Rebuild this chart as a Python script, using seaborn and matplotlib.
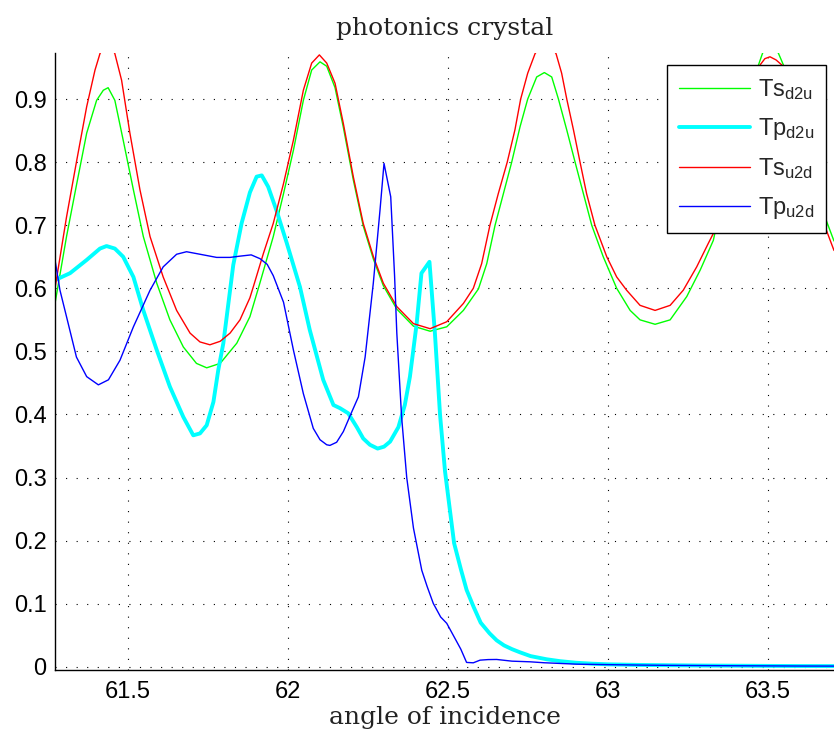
import numpy as np
import pandas as pd
import matplotlib
matplotlib.use("Agg")
import matplotlib.pyplot as plt
import seaborn as sns

# values
ts_d2u_x = [61.272, 61.308, 61.340, 61.371, 61.402, 61.423, 61.438, 61.459, 61.485, 61.517,
            61.548, 61.590, 61.631, 61.673, 61.714, 61.746, 61.788, 61.840, 61.881, 61.912,
            61.954, 61.986, 62.017, 62.048, 62.074, 62.100, 62.121, 62.147, 62.173, 62.204,
            62.235, 62.267, 62.298, 62.340, 62.392, 62.444, 62.496, 62.548, 62.595, 62.621,
            62.647, 62.673, 62.699, 62.725, 62.749, 62.777, 62.801, 62.824, 62.845, 62.871,
            62.897, 62.923, 62.949, 62.985, 63.027, 63.069, 63.100, 63.147, 63.194, 63.246,
            63.288, 63.329, 63.360, 63.390, 63.420, 63.450, 63.470, 63.483, 63.505, 63.532,
            63.548, 63.570, 63.600, 63.630, 63.660, 63.680, 63.706]
ts_d2u_y = [0.576, 0.682, 0.766, 0.846, 0.898, 0.914, 0.918, 0.898, 0.835, 0.756,
            0.682, 0.608, 0.550, 0.507, 0.481, 0.474, 0.481, 0.513, 0.555, 0.608,
            0.682, 0.750, 0.819, 0.898, 0.946, 0.959, 0.952, 0.918, 0.855, 0.772,
            0.699, 0.646, 0.604, 0.567, 0.540, 0.532, 0.539, 0.565, 0.599, 0.639,
            0.700, 0.750, 0.800, 0.856, 0.900, 0.935, 0.942, 0.935, 0.900, 0.851,
            0.800, 0.750, 0.700, 0.650, 0.600, 0.565, 0.550, 0.543, 0.550, 0.587,
            0.629, 0.676, 0.750, 0.820, 0.885, 0.935, 0.954, 0.973, 0.985, 0.973,
            0.954, 0.930, 0.880, 0.810, 0.745, 0.710, 0.675]

tp_d2u_x = [61.272, 61.319, 61.371, 61.4125, 61.433, 61.459, 61.485, 61.517, 61.548, 61.590,
            61.631, 61.673, 61.704, 61.725, 61.746, 61.767, 61.782, 61.798, 61.8085, 61.829,
            61.855, 61.881, 61.902, 61.918, 61.938, 61.965, 61.996, 62.0375, 62.068, 62.110,
            62.142, 62.1625, 62.188, 62.215, 62.235, 62.256, 62.280, 62.300, 62.319, 62.345,
            62.365, 62.381, 62.402, 62.417, 62.442, 62.459, 62.475, 62.4906, 62.506, 62.519,
            62.540, 62.558, 62.580, 62.602, 62.630, 62.652, 62.675, 62.700, 62.725, 62.758,
            62.808, 62.850, 62.900, 62.950, 63.000, 63.100, 63.200, 63.300, 63.400, 63.500,
            63.600, 63.706]
tp_d2u_y = [0.613, 0.624, 0.645, 0.663, 0.667, 0.663, 0.650, 0.618, 0.565, 0.502,
            0.444, 0.396, 0.367, 0.370, 0.383, 0.420, 0.470, 0.513, 0.555, 0.637,
            0.703, 0.752, 0.777, 0.779, 0.761, 0.722, 0.672, 0.602, 0.534, 0.455,
            0.415, 0.410, 0.402, 0.380, 0.362, 0.352, 0.346, 0.349, 0.357, 0.380,
            0.415, 0.460, 0.544, 0.624, 0.642, 0.529, 0.400, 0.310, 0.248, 0.196,
            0.155, 0.122, 0.095, 0.070, 0.053, 0.042, 0.034, 0.028, 0.023, 0.017,
            0.012, 0.009, 0.0065, 0.005, 0.004, 0.003, 0.0025, 0.002, 0.0018, 0.0015,
            0.0013, 0.0012]

ts_u2d_x = [61.272, 61.308, 61.340, 61.371, 61.397, 61.4125, 61.436, 61.459, 61.480, 61.506,
            61.5375, 61.569, 61.610, 61.652, 61.694, 61.725, 61.756, 61.788, 61.819, 61.850,
            61.881, 61.892, 61.923, 61.954, 61.986, 62.017, 62.048, 62.074, 62.098, 62.121,
            62.147, 62.173, 62.204, 62.235, 62.267, 62.298, 62.340, 62.392, 62.444, 62.496,
            62.548, 62.579, 62.605, 62.631, 62.657, 62.685, 62.709, 62.727, 62.749, 62.772,
            62.805, 62.8375, 62.855, 62.871, 62.892, 62.9125, 62.933, 62.959, 62.996, 63.027,
            63.058, 63.100, 63.147, 63.194, 63.235, 63.277, 63.313, 63.334, 63.360, 63.390,
            63.420, 63.450, 63.475, 63.490, 63.506, 63.525, 63.543, 63.570, 63.600, 63.630,
            63.660, 63.680, 63.706]
ts_u2d_y = [0.600, 0.713, 0.803, 0.888, 0.946, 0.972, 0.995, 0.972, 0.930, 0.846,
            0.756, 0.682, 0.618, 0.565, 0.529, 0.515, 0.5105, 0.516, 0.529, 0.550,
            0.585, 0.603, 0.655, 0.703, 0.766, 0.835, 0.914, 0.957, 0.970, 0.957,
            0.925, 0.861, 0.777, 0.703, 0.650, 0.608, 0.571, 0.544, 0.536, 0.547,
            0.576, 0.600, 0.639, 0.700, 0.750, 0.800, 0.851, 0.900, 0.941, 0.972,
            0.995, 0.972, 0.941, 0.900, 0.851, 0.800, 0.750, 0.700, 0.650, 0.618,
            0.597, 0.573, 0.565, 0.573, 0.597, 0.634, 0.671, 0.692, 0.745, 0.810,
            0.870, 0.925, 0.954, 0.964, 0.967, 0.962, 0.954, 0.925, 0.870, 0.800,
            0.735, 0.695, 0.660]

tp_u2d_x = [61.272, 61.2875, 61.308, 61.339, 61.371, 61.4075, 61.439, 61.475, 61.517, 61.569,
            61.610, 61.652, 61.683, 61.725, 61.777, 61.819, 61.850, 61.885, 61.9125, 61.935,
            61.954, 61.986, 62.017, 62.048, 62.079, 62.100, 62.121, 62.131, 62.152, 62.173,
            62.200, 62.220, 62.241, 62.2665, 62.2875, 62.300, 62.321, 62.333, 62.340, 62.355,
            62.371, 62.392, 62.418, 62.435, 62.454, 62.477, 62.496, 62.519, 62.540, 62.558,
            62.579, 62.600, 62.625, 62.652, 62.700, 62.756, 62.800, 62.900, 63.000, 63.100,
            63.200, 63.300, 63.400, 63.500, 63.600, 63.706]
tp_u2d_y = [0.645, 0.597, 0.555, 0.491, 0.460, 0.447, 0.455, 0.486, 0.539, 0.597,
            0.634, 0.654, 0.658, 0.654, 0.649, 0.649, 0.651, 0.653, 0.647, 0.638,
            0.620, 0.578, 0.502, 0.433, 0.378, 0.360, 0.352, 0.351, 0.356, 0.373,
            0.405, 0.428, 0.491, 0.608, 0.724, 0.798, 0.745, 0.620, 0.529, 0.396,
            0.300, 0.220, 0.153, 0.127, 0.1005, 0.079, 0.069, 0.0476, 0.028, 0.007,
            0.0064, 0.0106, 0.0115, 0.0117, 0.009, 0.008, 0.0065, 0.0043, 0.0035, 0.0028,
            0.0023, 0.002, 0.0017, 0.0015, 0.0013, 0.0012]

x_ticks = [61.5, 62, 62.5, 63, 63.5]
x_tick_labels = ["61.5", "62", "62.5", "63", "63.5"]
y_ticks = [0, 0.1, 0.2, 0.3, 0.4, 0.5, 0.6, 0.7, 0.8, 0.9]
y_tick_labels = ["0", "0.1", "0.2", "0.3", "0.4", "0.5", "0.6", "0.7", "0.8", "0.9"]

sns.set_style("white")
plt.rcParams["font.family"] = ["Liberation Sans", "DejaVu Sans"]
plt.rcParams["mathtext.default"] = "regular"

fig = plt.figure(figsize=(8.34, 7.38), dpi=100)
ax = fig.add_axes([55 / 834, 68 / 738, 779 / 834, 617 / 738])

sns.lineplot(x=ts_d2u_x, y=ts_d2u_y, ax=ax, color="#00ff00", lw=1.0, label=r"Ts$_{d2u}$")
sns.lineplot(x=tp_d2u_x, y=tp_d2u_y, ax=ax, color="#00ffff", lw=2.8, label=r"Tp$_{d2u}$")
sns.lineplot(x=ts_u2d_x, y=ts_u2d_y, ax=ax, color="#ff0000", lw=1.0, label=r"Ts$_{u2d}$")
sns.lineplot(x=tp_u2d_x, y=tp_u2d_y, ax=ax, color="#0000ff", lw=1.0, label=r"Tp$_{u2d}$")

ax.set_xlim(61.272, 63.706)
ax.set_ylim(-0.005, 0.973)
ax.set_xticks(x_ticks)
ax.set_xticklabels(x_tick_labels)
ax.set_yticks(y_ticks)
ax.set_yticklabels(y_tick_labels)
ax.tick_params(axis="both", direction="in", length=5, width=0.8, color="black",
               labelsize=17, labelcolor="black")
ax.tick_params(axis="x", pad=8)
ax.tick_params(axis="y", pad=6)

ax.grid(True, color="black", lw=0.8, linestyle=(0, (1, 8.5)))
ax.set_axisbelow(True)
for side in ["top", "right"]:
    ax.spines[side].set_visible(False)
for side in ["left", "bottom"]:
    ax.spines[side].set_color("black")
    ax.spines[side].set_linewidth(1.0)

ax.set_title("photonics crystal", family="DejaVu Serif", fontsize=18, color="#222222", pad=13)
ax.set_xlabel("angle of incidence", family="DejaVu Serif", fontsize=18, color="#222222", labelpad=2)
ax.set_ylabel("")

leg = ax.legend(loc="upper right", bbox_to_anchor=(0.9897, 0.9805), borderaxespad=0,
                fontsize=17, frameon=True, fancybox=False, framealpha=1, edgecolor="black",
                handlelength=3.0, handletextpad=0.35, labelspacing=0.6, borderpad=0.5)
leg.get_frame().set_linewidth(1.0)

fig.savefig("out.png", dpi=100)
